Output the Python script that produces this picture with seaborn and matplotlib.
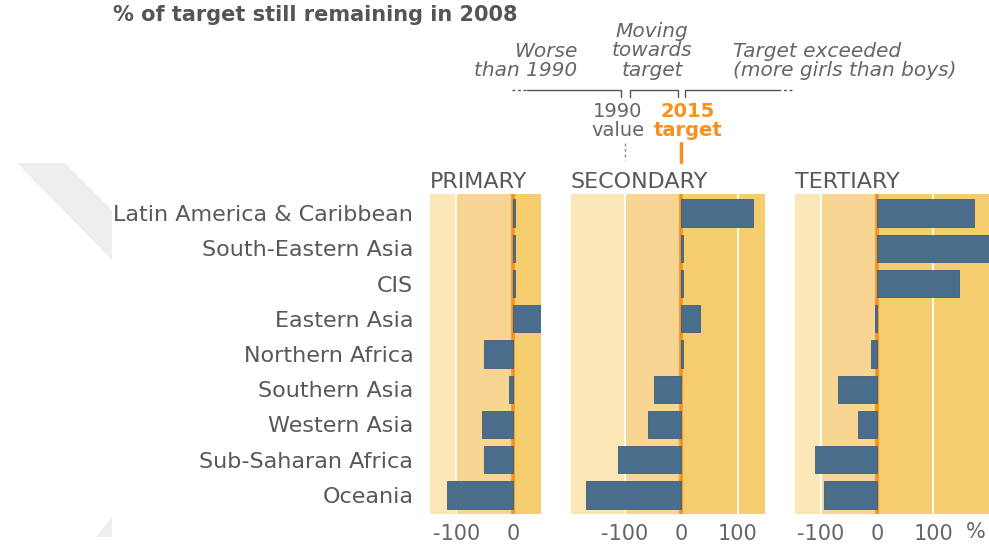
import numpy as np
import pandas as pd
import matplotlib.pyplot as plt
from matplotlib.lines import Line2D
from matplotlib.patches import Polygon
import seaborn as sns

sns.set_style("white")
plt.rcParams['font.family'] = ['DejaVu Sans']

# data (% of target still remaining in 2008)
regions = ["Latin America & Caribbean", "South-Eastern Asia", "CIS", "Eastern Asia",
           "Northern Africa", "Southern Asia", "Western Asia", "Sub-Saharan Africa", "Oceania"]
primary = [3, 3, 3, 52, -52, -6, -55, -52, -116]
secondary = [127, 3, 3, 34, 3, -49, -59, -112, -169]
tertiary = [173, 205, 145, -3, -10, -70, -34, -111, -94]
levels = ["PRIMARY", "SECONDARY", "TERTIARY"]
tick_sets = [[-100, 0], [-100, 0, 100], [-100, 0, 100]]
xlims = [(-147, 50), (-197, 148), (-146, 199)]

df = pd.DataFrame({"region": regions * 3,
                   "level": np.repeat(levels, len(regions)),
                   "value": primary + secondary + tertiary})

BLUE = "#4a6d8c"
EDGE = "#3e5f7c"
LIGHT = "#fbe6b5"
MID = "#f9d593"
DARK = "#f6cd6e"
ORANGE = "#f7901e"
GREY = "#666666"

W, H = 989, 547
def fx(x):
    return x / W
def fy(y):
    return 1 - y / H

fig = plt.figure(figsize=(W / 100, H / 100), dpi=100)

# faint watermark shapes on the left
fig.patches.append(Polygon([(fx(17), fy(163)), (fx(65), fy(163)), (fx(112), fy(210)), (fx(112), fy(260))],
                           closed=True, transform=fig.transFigure, color="#eeeeee", lw=0, zorder=0))
fig.patches.append(Polygon([(fx(112), fy(517)), (fx(112), fy(537)), (fx(96), fy(537))],
                           closed=True, transform=fig.transFigure, color="#eeeeee", lw=0, zorder=0))

panels = [(430, 541), (570.5, 764.5), (795, 989)]
top, bottom = 194, 514

for i, lev in enumerate(levels):
    l, r = panels[i]
    ax = fig.add_axes([fx(l), fy(bottom), fx(r) - fx(l), (bottom - top) / H])
    sub = df[df.level == lev]
    sns.barplot(data=sub, x="value", y="region", orient="h", color=BLUE, saturation=1,
                width=0.77, edgecolor=EDGE, linewidth=0.6, ax=ax, zorder=3)
    lo, hi = xlims[i]
    ax.axvspan(lo, -100, color=LIGHT, lw=0, zorder=0)
    ax.axvspan(-100, 0, color=MID, lw=0, zorder=0)
    ax.axvspan(0, hi, color=DARK, lw=0, zorder=0)
    for v in (-100, 100):
        ax.axvline(v, color="white", lw=1.3, zorder=1)
    ax.axvline(0, color=ORANGE, lw=2.6, zorder=2)
    ax.set_xlim(lo, hi)
    ax.set_ylim(8.54, -0.54)
    ax.set_xticks(tick_sets[i])
    ax.set_xticklabels([str(t) for t in tick_sets[i]])
    ax.tick_params(axis="x", length=0, labelsize=15, labelcolor=GREY, pad=7)
    ax.set_xlabel("")
    ax.set_ylabel("")
    sns.despine(ax=ax, left=True, bottom=True)
    if i == 0:
        ax.tick_params(axis="y", length=0, labelsize=16, labelcolor="#585858", pad=12)
    else:
        ax.tick_params(axis="y", left=False, labelleft=False)
    fig.text(fx(l), fy(188), lev, fontsize=16, color="#595959", ha="left", va="baseline")

fig.text(fx(986), fy(532), "%", fontsize=15, color=GREY, ha="right", va="center")

# header
fig.text(fx(113), fy(15), "% of target still remaining in 2008", fontsize=15,
         fontweight="bold", color="#555555", ha="left", va="center")

ital = dict(fontsize=14.5, color=GREY, style="italic", linespacing=1.05)
fig.text(fx(577), fy(61), "Worse\nthan 1990", ha="right", va="center", multialignment="right", **ital)
fig.text(fx(652), fy(51), "Moving\ntowards\ntarget", ha="center", va="center", multialignment="center", **ital)
fig.text(fx(733), fy(61), "Target exceeded\n(more girls than boys)", ha="left", va="center",
         multialignment="left", **ital)

def fig_line(xs, ys, **kw):
    fig.add_artist(Line2D([fx(x) for x in xs], [fy(y) for y in ys], transform=fig.transFigure, **kw))

bk = dict(color="#555555", lw=1)
fig_line([511.7, 526.7], [90, 90], ls=(0, (2, 2)), **bk)
fig_line([526.7, 620.7, 620.7], [90, 90, 97], **bk)
fig_line([630, 630, 678.3, 678.3], [97, 90, 90, 97], **bk)
fig_line([685.3, 685.3, 778], [97, 90, 90], **bk)
fig_line([778, 793], [90, 90], ls=(0, (2, 2)), **bk)

fig.text(fx(618), fy(121), "1990\nvalue", fontsize=14, color=GREY, ha="center", va="center",
         multialignment="center", linespacing=1.0)
fig.text(fx(688), fy(121), "2015\ntarget", fontsize=14, color=ORANGE, fontweight="bold",
         ha="center", va="center", multialignment="center", linespacing=1.0)
fig_line([625, 625], [143, 160], color="#888888", lw=1, ls=(0, (2, 2)))
fig_line([680.7, 680.7], [143, 162], color=ORANGE, lw=2.5)

plt.savefig("out.png", dpi=100)
